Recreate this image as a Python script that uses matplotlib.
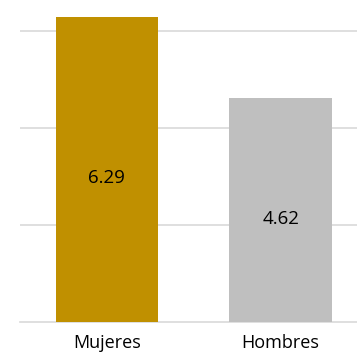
import matplotlib
matplotlib.use("Agg")
import matplotlib.pyplot as plt

categories = ["Mujeres", "Hombres"]
values = [6.29, 4.62]
colors = ["#C09000", "#BFBFBF"]

plt.rcParams['font.family'] = ['Open Sans', 'DejaVu Sans']

fig = plt.figure(figsize=(3.57, 3.52), dpi=100)
W, H = 357, 352
ax = fig.add_axes([20 / W, (H - 322) / H, 337 / W, 322 / H])

x = range(len(categories))
bars = ax.bar(x, values, width=0.59, color=colors, zorder=3)

for xi, v in zip(x, values):
    ax.text(xi, v / 2 - 0.18, f"{v:.2f}", ha="center", va="center",
            fontsize=13.5, color="black", zorder=4)

ax.set_xlim(-0.5, 1.44)
ax.set_ylim(0, 6.63)
ax.set_yticks([2, 4, 6])
ax.yaxis.grid(True, color="#D9D9D9", linewidth=1.2, zorder=0)
ax.tick_params(axis="y", left=False, labelleft=False)
ax.tick_params(axis="x", bottom=False, labelsize=13, pad=5)
ax.set_xticks(list(x))
ax.set_xticklabels(categories)

for s in ["top", "right", "left"]:
    ax.spines[s].set_visible(False)
ax.spines["bottom"].set_color("#D9D9D9")
ax.spines["bottom"].set_linewidth(1.2)

fig.savefig("out.png", dpi=100)
